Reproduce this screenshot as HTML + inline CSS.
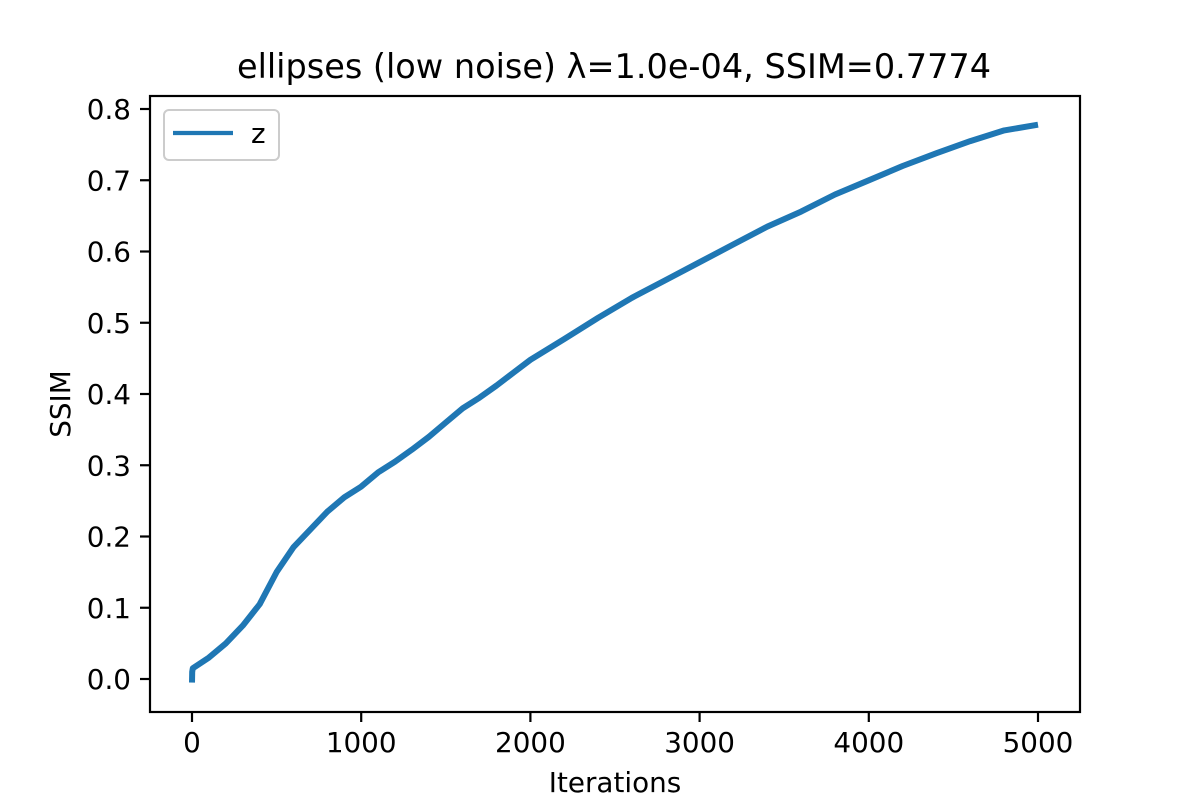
<!DOCTYPE html>
<html><head><meta charset="utf-8"><style>
body{margin:0;background:#fff}
svg text{font-family:"DejaVu Sans","Liberation Sans",sans-serif;fill:#000}
</style></head><body>
<svg id="chart" width="1200" height="800" xmlns="http://www.w3.org/2000/svg">
<rect width="1200" height="800" fill="#fff"/>
<text x="614" y="78" font-size="33.5" text-anchor="middle">ellipses (low noise) λ=1.0e-04, SSIM=0.7774</text>
<g id="ticks"></g>
<path id="line" fill="none" stroke="#1f77b4" stroke-width="6" stroke-linejoin="round"/>
<rect x="150" y="96" width="930" height="616" fill="none" stroke="#000" stroke-width="2.2"/>
<text x="615" y="792" font-size="27.8" text-anchor="middle">Iterations</text>
<text transform="translate(70,404) rotate(-90)" font-size="27.8" text-anchor="middle">SSIM</text>
<g>
<rect x="164" y="110" width="115" height="50" rx="5" fill="#fff" fill-opacity="0.8" stroke="#ccc" stroke-width="2"/>
<line x1="173" y1="133" x2="233" y2="133" stroke="#1f77b4" stroke-width="4.2"/>
<text x="251" y="143" font-size="27.8">z</text>
</g>
</svg>
<script>
const iters=[0,1,5,100,200,300,400,500,600,700,800,900,1000,1100,1200,1300,1400,1500,1600,1700,1800,1900,2000,2200,2400,2600,2800,3000,3200,3400,3600,3800,4000,4200,4400,4600,4800,5000];
const ssim=[-0.005,0.01,0.015,0.03,0.05,0.075,0.105,0.15,0.185,0.21,0.235,0.255,0.27,0.29,0.305,0.322,0.34,0.36,0.38,0.395,0.412,0.43,0.448,0.477,0.507,0.535,0.56,0.585,0.61,0.635,0.656,0.68,0.70,0.72,0.738,0.755,0.77,0.778];
const xTicks=[0,1000,2000,3000,4000,5000];
const yTicks=[0.0,0.1,0.2,0.3,0.4,0.5,0.6,0.7,0.8];
const X=v=>192+v*(1038-192)/5000;
const Y=v=>679-v*(679-109)/0.8;
document.getElementById('line').setAttribute('d',iters.map((t,i)=>(i?'L':'M')+X(t).toFixed(1)+','+Y(ssim[i]).toFixed(1)).join(''));
const g=document.getElementById('ticks');const NS='http://www.w3.org/2000/svg';
xTicks.forEach(t=>{const l=document.createElementNS(NS,'line');
l.setAttribute('x1',X(t));l.setAttribute('x2',X(t));l.setAttribute('y1',712);l.setAttribute('y2',722);l.setAttribute('stroke','#000');l.setAttribute('stroke-width','2.2');

g.appendChild(l);
const s=document.createElementNS(NS,'text');s.setAttribute('x',X(t));s.setAttribute('y',752);s.setAttribute('font-size','27.8');s.setAttribute('text-anchor','middle');s.textContent=t;

g.appendChild(s);});
yTicks.forEach(t=>{const l=document.createElementNS(NS,'line');
l.setAttribute('x1',140);l.setAttribute('x2',150);l.setAttribute('y1',Y(t));l.setAttribute('y2',Y(t));l.setAttribute('stroke','#000');l.setAttribute('stroke-width','2.2');

g.appendChild(l);
const s=document.createElementNS(NS,'text');s.setAttribute('x',131);s.setAttribute('y',Y(t)+10);s.setAttribute('font-size','27.8');s.setAttribute('text-anchor','end');s.textContent=t.toFixed(1);

g.appendChild(s);});
</script>
</body></html>
